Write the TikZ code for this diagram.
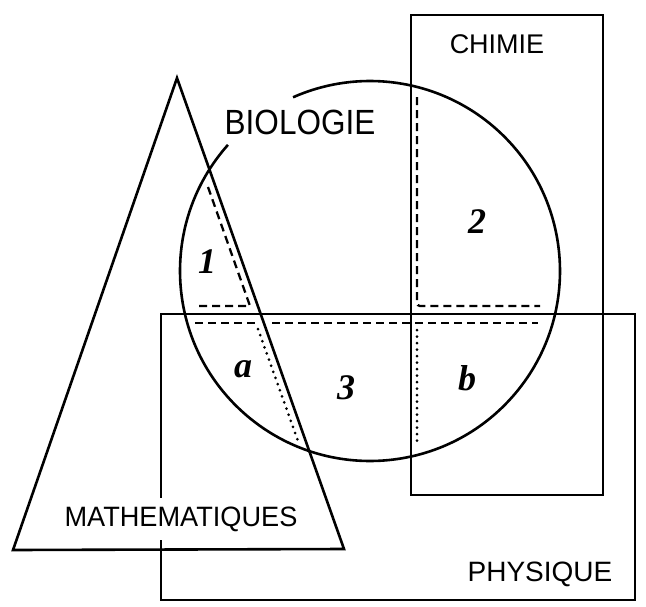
\documentclass[tikz,border=0pt]{standalone}
\usepackage{fontspec}
\usepackage{graphicx}
\setsansfont{Liberation Sans}
\newfontfamily\regionfont{Liberation Serif}
\begin{document}
\begin{tikzpicture}[x=1pt,y=-1pt,
  outline/.style={line width=2.6pt, line join=miter},
  dashline/.style={line width=2.3pt, dash pattern=on 8pt off 5pt},
  dotline/.style={line width=3pt, dash pattern=on 0pt off 6.5pt, line cap=round},
  title/.style={font=\sffamily\fontsize{28}{30}\selectfont, inner sep=0pt},
  region/.style={font=\regionfont\bfseries\itshape\fontsize{36}{38}\selectfont, inner sep=0pt}]
\useasboundingbox (0,0) rectangle (646,606);
% coordinates
\coordinate (c) at (370,271);
\coordinate (apex) at (177,78);
\coordinate (tl) at (13,550);
\coordinate (tr) at (344,549);
% PHYSIQUE rectangle
\draw[outline] (161,314) rectangle (635,600);
% CHIMIE rectangle
\draw[outline] (411,15) rectangle (603,495);
% MATHEMATIQUES label, breaking the rectangle's left side
\node[title, fill=white, inner xsep=1pt, inner ysep=9pt] (mat) at (181,519) {\scalebox{0.97}[1]{MATHEMATIQUES}};
% MATHEMATIQUES triangle
\draw[outline] (apex) -- (tr) -- (tl) -- cycle;
% BIOLOGIE circle (open near its label)
\draw[outline] ([shift={(221.6:190)}]c) arc[start angle=221.6, end angle=-113.9, radius=190];
% region boundaries
\coordinate (d1a) at (208,187);
\coordinate (d1b) at (250,306);
\coordinate (d1c) at (195,306);
\draw[dashline] (d1a) -- (d1b) -- (d1c);
\coordinate (d2a) at (195,323);
\coordinate (d2b) at (257,323);
\draw[dashline] (d2a) -- (d2b);
\coordinate (p1a) at (258,329);
\coordinate (p1b) at (298,441);
\draw[dotline] (p1a) -- (p1b);
\coordinate (d3a) at (272,323);
\coordinate (d3b) at (538,323);
\draw[dashline] (d3a) -- (d3b);
\coordinate (p2a) at (417,330);
\coordinate (p2b) at (417,447);
\draw[dotline] (p2a) -- (p2b);
\coordinate (d4a) at (417,97);
\coordinate (d4b) at (417,306);
\coordinate (d4c) at (540,306);
\draw[dashline, rounded corners=3pt] (d4a) -- (d4b) -- (d4c);
% labels
\node[title, font=\sffamily\fontsize{35}{38}\selectfont] (bio) at (300,122) {\scalebox{0.9}[1]{BIOLOGIE}};
\node[title, font=\sffamily\fontsize{27}{29}\selectfont] (chi) at (497,44) {CHIMIE};
\node[title] (phy) at (540,574) {PHYSIQUE};
\node[region] (r1) at (207,262) {1};
\node[region] (r2) at (477,222) {2};
\node[region] (ra) at (243,369) {a};
\node[region] (r3) at (346,388) {3};
\node[region] (rb) at (467,378) {b};
\end{tikzpicture}
\end{document}
